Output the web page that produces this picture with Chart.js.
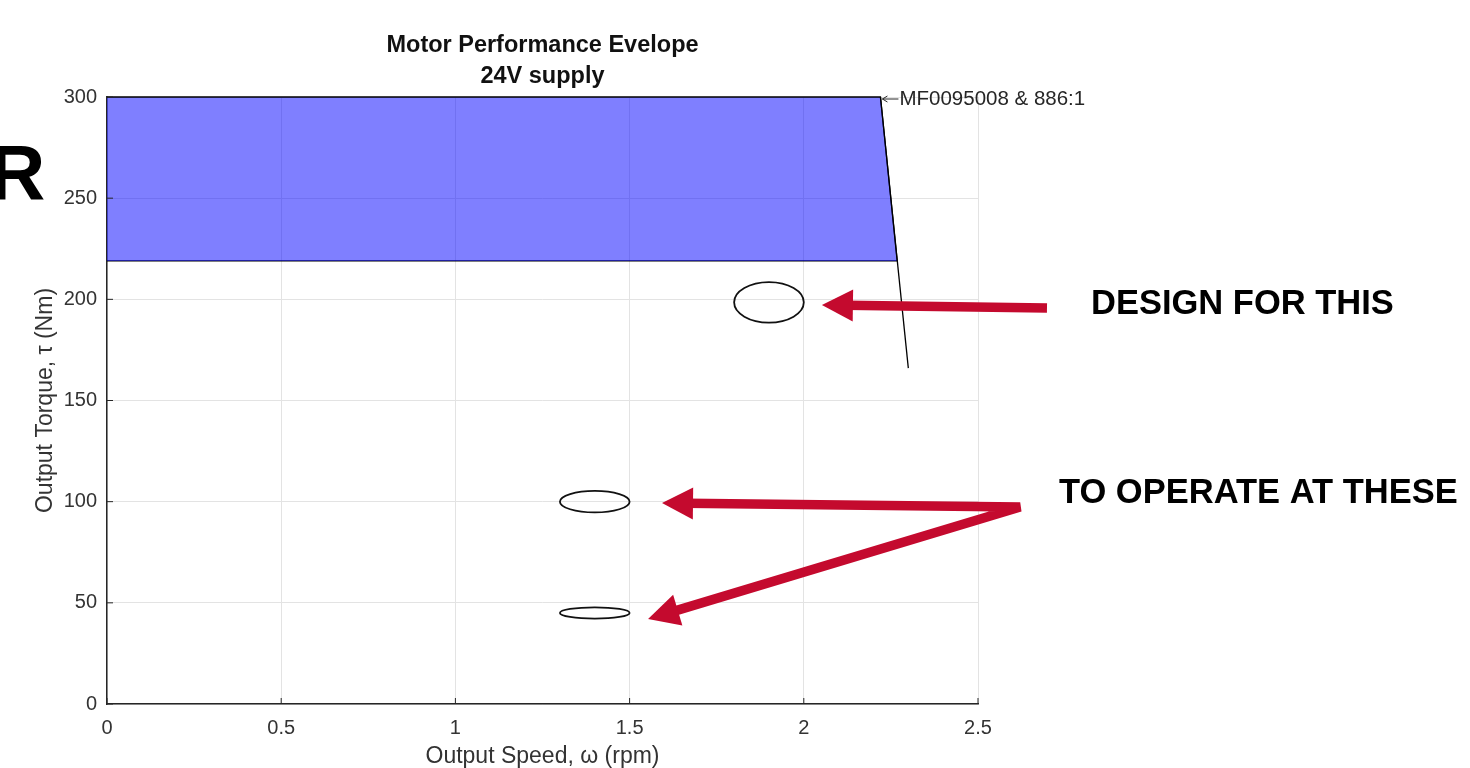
<!DOCTYPE html>
<html>
<head>
<meta charset="utf-8">
<script src="https://cdn.jsdelivr.net/npm/chart.js@4.4.1/dist/chart.umd.min.js"></script>
<style>
  html, body { margin: 0; padding: 0; background: #fff; overflow: hidden; }
  #wrap { width: 1470px; height: 768px; position: relative; }
</style>
</head>
<body>
<div id="wrap"><canvas id="graph1"></canvas></div>
<script>
// courbe du moteur (enveloppe de fonctionnement)
const envelopeSpeed = [0, 2.22, 2.268];
const envelopeTorque = [300, 300, 219];
const ratedSpeed = [0, 2.268];
const ratedTorque = [219, 219];
const curveSpeed = [2.22, 2.30];
const curveTorque = [300, 166];

// points de fonctionnement (ellipses)
const opSpeed = [1.9, 1.4, 1.4];
const opTorque = [198.5, 100, 45];
const opSpeedRadius = [0.1, 0.1, 0.1];
const opTorqueRadius = [10, 5.3, 2.8];

// graduations
const speedTicks = [0, 0.5, 1, 1.5, 2, 2.5];
const torqueTicks = [0, 50, 100, 150, 200, 250, 300];

const titleLines = ["Motor Performance Evelope", "24V supply"];
const motorLabel = "MF0095008 & 886:1";
const designText = "DESIGN FOR THIS";
const operateText = "TO OPERATE AT THESE";

const FONT = "'Liberation Sans', Arial, sans-serif";
const red = "#c40a2e";
const axisColor = "#262626";

function toPoints(xs, ys) {
  return xs.map((x, i) => ({ x: x, y: ys[i] }));
}

// dessin des annotations par-dessus le graphique
const annotations = {
  id: "annotations",
  afterDraw(chart) {
    const ctx = chart.ctx;
    const xs = chart.scales.x;
    const ys = chart.scales.y;
    const area = chart.chartArea;
    const px = v => xs.getPixelForValue(v);
    const py = v => ys.getPixelForValue(v);
    ctx.save();

    // petites graduations vers l'intérieur
    ctx.strokeStyle = axisColor;
    ctx.lineWidth = 1;
    ctx.beginPath();
    speedTicks.forEach(t => {
      ctx.moveTo(px(t), area.bottom);
      ctx.lineTo(px(t), area.bottom - 6);
    });
    torqueTicks.forEach(t => {
      ctx.moveTo(area.left, py(t));
      ctx.lineTo(area.left + 6, py(t));
    });
    ctx.stroke();

    // titre
    ctx.fillStyle = "#111";
    ctx.font = "bold 23.5px " + FONT;
    ctx.textAlign = "center";
    ctx.textBaseline = "middle";
    const cx = (area.left + area.right) / 2;
    ctx.fillText(titleLines[0], cx, 46);
    ctx.fillText(titleLines[1], cx, 77);

    // ellipses
    ctx.strokeStyle = "#111";
    ctx.lineWidth = 1.8;
    for (let i = 0; i < opSpeed.length; i++) {
      const rx = Math.abs(px(opSpeed[i] + opSpeedRadius[i]) - px(opSpeed[i]));
      const ry = Math.abs(py(opTorque[i] + opTorqueRadius[i]) - py(opTorque[i]));
      ctx.beginPath();
      ctx.ellipse(px(opSpeed[i]), py(opTorque[i]), rx, ry, 0, 0, Math.PI * 2);
      ctx.stroke();
    }

    // étiquette moteur
    const lx = px(curveSpeed[0]);
    const ly = py(curveTorque[0]) + 2;
    ctx.strokeStyle = axisColor;
    ctx.lineWidth = 1;
    ctx.beginPath();
    ctx.moveTo(lx + 2, ly);
    ctx.lineTo(lx + 18, ly);
    ctx.moveTo(lx + 2, ly);
    ctx.lineTo(lx + 7, ly - 3);
    ctx.moveTo(lx + 2, ly);
    ctx.lineTo(lx + 7, ly + 3);
    ctx.stroke();
    ctx.fillStyle = axisColor;
    ctx.font = "20.5px " + FONT;
    ctx.textAlign = "left";
    ctx.fillText(motorLabel, lx + 19, ly);

    // flèches rouges
    function head(tx, ty, fx, fy) {
      const a = Math.atan2(ty - fy, tx - fx);
      const len = 31, half = 16;
      ctx.beginPath();
      ctx.moveTo(tx, ty);
      ctx.lineTo(tx - len * Math.cos(a) + half * Math.sin(a), ty - len * Math.sin(a) - half * Math.cos(a));
      ctx.lineTo(tx - len * Math.cos(a) - half * Math.sin(a), ty - len * Math.sin(a) + half * Math.cos(a));
      ctx.closePath();
      ctx.fill();
    }
    function base(tx, ty, fx, fy) {
      const a = Math.atan2(ty - fy, tx - fx);
      return [tx - 24 * Math.cos(a), ty - 24 * Math.sin(a)];
    }
    ctx.strokeStyle = red;
    ctx.fillStyle = red;
    ctx.lineWidth = 9.5;
    ctx.lineJoin = "bevel";
    // vers DESIGN FOR THIS
    let t1 = [px(2.052), py(197.2)], f1 = [px(2.698), py(195.7)];
    let b1 = base(t1[0], t1[1], f1[0], f1[1]);
    ctx.beginPath();
    ctx.moveTo(f1[0], f1[1]);
    ctx.lineTo(b1[0], b1[1]);
    ctx.stroke();
    head(t1[0], t1[1], f1[0], f1[1]);
    // vers TO OPERATE AT THESE
    let j = [px(2.621), py(97.4)];
    let t2 = [px(1.593), py(99.3)], t3 = [px(1.553), py(42.0)];
    let b2 = base(t2[0], t2[1], j[0], j[1]);
    let b3 = base(t3[0], t3[1], j[0], j[1]);
    ctx.beginPath();
    ctx.moveTo(b2[0], b2[1]);
    ctx.lineTo(j[0], j[1]);
    ctx.lineTo(b3[0], b3[1]);
    ctx.stroke();
    head(t2[0], t2[1], j[0], j[1]);
    head(t3[0], t3[1], j[0], j[1]);

    // textes
    ctx.fillStyle = "#000";
    ctx.font = "bold 34.5px " + FONT;
    ctx.textAlign = "left";
    ctx.textBaseline = "middle";
    ctx.fillText(designText, 1091, 304);
    ctx.fillText(operateText, 1059, 493);

    // lettre coupée à gauche
    ctx.font = "bold 78px " + FONT;
    ctx.textBaseline = "alphabetic";
    ctx.fillText("R", -11, 199);

    ctx.restore();
  }
};

let ctx = document.getElementById("graph1");

new Chart(ctx, {
  type: "scatter",
  data: {
    datasets: [
      {
        data: toPoints(envelopeSpeed, envelopeTorque),
        showLine: true,
        fill: { value: 219 },
        backgroundColor: "rgba(0,0,255,0.5)",
        borderColor: "#000",
        borderWidth: 1.3,
        pointRadius: 0,
        clip: false,
      },
      {
        data: toPoints(ratedSpeed, ratedTorque),
        showLine: true,
        borderColor: "#000",
        borderWidth: 1.3,
        pointRadius: 0,
        clip: false,
      },
      {
        data: toPoints(curveSpeed, curveTorque),
        showLine: true,
        borderColor: "#000",
        borderWidth: 1.3,
        pointRadius: 0,
        clip: false,
      },
    ],
  },
  options: {
    responsive: true,
    maintainAspectRatio: false,
    animation: false,
    layout: { padding: { left: 0, top: 97, right: 492, bottom: 0 } },
    plugins: {
      legend: { display: false },
      tooltip: { enabled: false },
    },
    scales: {
      x: {
        type: "linear",
        min: 0,
        max: 2.5,
        afterFit: s => { s.height = 64; },
        afterBuildTicks: s => { s.ticks = speedTicks.map(v => ({ value: v })); },
        grid: { color: "#e3e3e3", drawTicks: false },
        border: { color: axisColor, width: 1.5 },
        ticks: {
          padding: 12,
          color: "#333",
          font: { family: FONT, size: 20 },
          callback: v => String(v),
        },
        title: {
          display: true,
          text: "Output Speed, ω (rpm)",
          color: "#333",
          font: { family: FONT, size: 23, lineHeight: 1 },
          padding: { top: 0, bottom: 0 },
        },
      },
      y: {
        type: "linear",
        min: 0,
        max: 300,
        afterFit: s => { s.width = 107; },
        afterBuildTicks: s => { s.ticks = torqueTicks.map(v => ({ value: v })); },
        grid: { color: "#e3e3e3", drawTicks: false },
        border: { color: axisColor, width: 1.5 },
        ticks: {
          padding: 10,
          color: "#333",
          font: { family: FONT, size: 20 },
        },
        title: {
          display: true,
          text: "Output Torque, τ (Nm)",
          color: "#333",
          font: { family: FONT, size: 23, lineHeight: 1 },
          padding: { top: 34, bottom: 0 },
        },
      },
    },
  },
  plugins: [annotations],
});
</script>
</body>
</html>
